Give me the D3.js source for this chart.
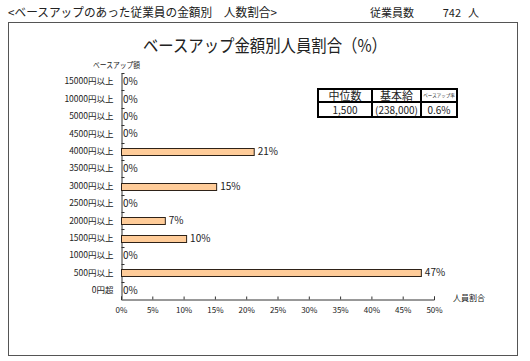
<!DOCTYPE html>
<html><head><meta charset="utf-8">
<script src="https://cdn.jsdelivr.net/npm/d3@7"></script>
<style>
html,body{margin:0;padding:0;background:#fff;}
svg text{font-family:"Noto Sans CJK JP","Noto Sans",sans-serif;fill:#222;}
</style></head>
<body><svg id="c" width="530" height="361"></svg>
<script>
const categories = ["15000円以上","10000円以上","5000円以上","4500円以上","4000円以上","3500円以上","3000円以上","2500円以上","2000円以上","1500円以上","1000円以上","500円以上","0円超"];
const values = [0,0,0,0,21.2,0,15.2,0,7.0,10.4,0,47.9,0];
const valueLabels = ["0%","0%","0%","0%","21%","0%","15%","0%","7%","10%","0%","47%","0%"];
const xTicks = [0,5,10,15,20,25,30,35,40,45,50];
const tableHead = ["中位数","基本給","ベースアップ率"];
const tableRow = ["1,500","(238,000)","0.6%"];

const svg = d3.select("#c");
// header
svg.append("text").attr("x",8).attr("y",17).attr("font-size",12)
  .attr("textLength",269).attr("lengthAdjust","spacingAndGlyphs")
  .text("<ベースアップのあった従業員の金額別　人数割合>");
svg.append("text").attr("x",370).attr("y",17).attr("font-size",11).text("従業員数");
svg.append("text").attr("x",461).attr("y",17).attr("font-size",11).attr("text-anchor","end").text("742");
svg.append("text").attr("x",468).attr("y",17).attr("font-size",11).text("人");

// frame
svg.append("rect").attr("x",8.5).attr("y",22.5).attr("width",509).attr("height",333)
  .attr("fill","#fff").attr("stroke","#555").attr("stroke-width",1);

svg.append("text").attr("x",143).attr("y",52).attr("font-size",17.5)
  .attr("textLength",244).attr("lengthAdjust","spacingAndGlyphs")
  .text("ベースアップ金額別人員割合（%）");

const x = d3.scaleLinear().domain([0,50]).range([121,434]);
const y = d3.scaleBand().domain(categories).range([73,299]);

// x axis
const gx = svg.append("g").attr("transform","translate(0,299.5)")
  .call(d3.axisBottom(x).tickValues(xTicks).tickSize(-3).tickPadding(8).tickFormat(d=>d+"%"));
gx.select(".domain").attr("stroke","#333");
gx.selectAll(".tick line").attr("stroke","#333");
gx.selectAll("text").attr("font-size",8).attr("fill","#222").attr("font-family","\"Noto Sans CJK JP\",sans-serif");

// y axis
const gy = svg.append("g").attr("transform","translate(121.5,0)")
  .call(d3.axisLeft(y).tickSize(0).tickPadding(8));
gy.select(".domain").attr("stroke","#333");
gy.selectAll("text").attr("font-size",8.5).attr("fill","#222").attr("font-family","\"Noto Sans CJK JP\",sans-serif");
// boundary ticks
const bounds = categories.map(c=>y(c));
svg.append("g").selectAll("line").data(bounds).join("line")
  .attr("x1",121.5).attr("x2",124.5).attr("y1",d=>Math.round(d)+0.5).attr("y2",d=>Math.round(d)+0.5)
  .attr("stroke","#333");

svg.append("text").attr("x",93).attr("y",68).attr("font-size",8)
  .attr("textLength",47).attr("lengthAdjust","spacingAndGlyphs").text("ベースアップ額");
svg.append("text").attr("x",453).attr("y",301).attr("font-size",8.5)
  .attr("textLength",32).attr("lengthAdjust","spacingAndGlyphs").text("人員割合");

// bars
const bh = 7;
svg.append("g").selectAll("rect").data(categories.map((c,i)=>({c,v:values[i]})).filter(d=>d.v>0)).join("rect")
  .attr("x",x(0)+0.5).attr("y",d=>Math.round(y(d.c)+y.bandwidth()/2-bh/2)+0.5)
  .attr("width",d=>x(d.v)-x(0)).attr("height",bh)
  .attr("fill","#FFCC99").attr("stroke","#2e2218").attr("stroke-width",1);

svg.append("g").selectAll("text").data(categories.map((c,i)=>({c,v:values[i],l:valueLabels[i]}))).join("text")
  .attr("x",d=>x(d.v)+ (d.v>0?4:2)).attr("y",d=>y(d.c)+y.bandwidth()/2+3.5)
  .attr("font-size",10).text(d=>d.l);

// table
const tx = [318,372,421,457], tr = [89,102,117];
const tg = svg.append("g");
tg.append("rect").attr("x",tx[0]).attr("y",tr[0]).attr("width",tx[3]-tx[0]).attr("height",tr[2]-tr[0])
  .attr("fill","#fff").attr("stroke","#000").attr("stroke-width",2);
tg.append("line").attr("x1",tx[0]).attr("x2",tx[3]).attr("y1",tr[1]).attr("y2",tr[1]).attr("stroke","#000").attr("stroke-width",2);
[tx[1],tx[2]].forEach(v=>tg.append("line").attr("x1",v).attr("x2",v).attr("y1",tr[0]).attr("y2",tr[2]).attr("stroke","#000").attr("stroke-width",2));
tableHead.forEach((t,i)=>tg.append("text").attr("x",(tx[i]+tx[i+1])/2).attr("y",tr[1]-2)
  .attr("text-anchor","middle").attr("font-size",i===2?4.5:11).attr("dy",i===2?"-3":null).text(t));
tableRow.forEach((t,i)=>tg.append("text").attr("x",(tx[i]+tx[i+1])/2).attr("y",tr[2]-3.5)
  .attr("text-anchor","middle").attr("font-size",10).text(t));
</script></body></html>
